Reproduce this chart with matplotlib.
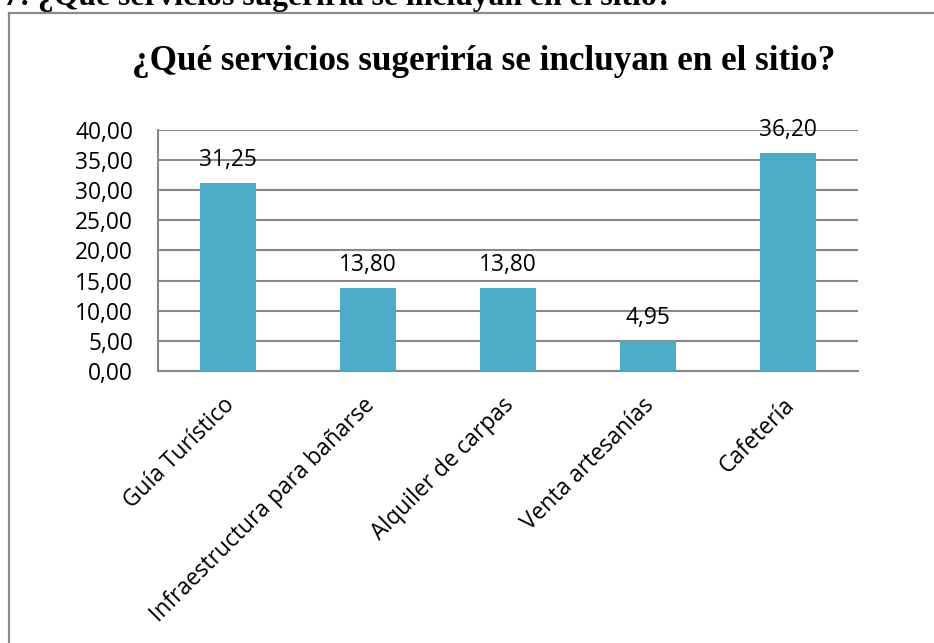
import matplotlib
matplotlib.use("Agg")
import matplotlib.pyplot as plt
from matplotlib.lines import Line2D

categories = ["Guía Turístico", "Infraestructura para bañarse", "Alquiler de carpas",
              "Venta artesanías", "Cafetería"]
values = [31.25, 13.80, 13.80, 4.95, 36.20]
yticks = [0, 5, 10, 15, 20, 25, 30, 35, 40]
title = "¿Qué servicios sugeriría se incluyan en el sitio?"
header = "Gráfico 7: ¿Qué servicios sugeriría se incluyan en el sitio?"

W, H = 934, 643
fig = plt.figure(figsize=(W / 100, H / 100), dpi=100)

def fx(px):
    return px / W

def fy(py):
    return 1 - py / H

FONT = "Open Sans"
FS = 16.4

ax = fig.add_axes([fx(158), fy(371), fx(858) - fx(158), fy(130) - fy(371)])
x = list(range(len(categories)))
ax.bar(x, values, width=0.4, color="#4BACC6", zorder=3)
ax.set_xlim(-0.5, len(categories) - 0.5)
ax.set_ylim(0, 40)
ax.set_yticks(yticks)
ax.set_yticklabels([f"{v:.2f}".replace(".", ",") for v in yticks],
                   fontfamily=FONT, fontsize=FS)
ax.tick_params(axis="y", length=0, pad=18)
ax.tick_params(axis="x", length=0)
ax.grid(axis="y", color="#878787", linewidth=1.5, zorder=1)
for s in ["top", "right"]:
    ax.spines[s].set_visible(False)
for s in ["left", "bottom"]:
    ax.spines[s].set_color("#878787")
    ax.spines[s].set_linewidth(1.5)
ax.set_xticks(x)
ax.set_xticklabels([])
for xi, c in zip(x, categories):
    ax.annotate(c, xy=(xi, 0), xycoords=("data", "axes fraction"),
                xytext=(2, -22), textcoords="offset points",
                rotation=45, rotation_mode="anchor", ha="right", va="center",
                fontfamily=FONT, fontsize=FS)
for xi, v in zip(x, values):
    ax.annotate(f"{v:.2f}".replace(".", ","), xy=(xi, v), xytext=(0, 8),
                textcoords="offset points", ha="center", va="bottom",
                fontfamily=FONT, fontsize=FS)

fig.text(fx(484), fy(61), title, ha="center", va="center",
         fontfamily="Liberation Serif", fontweight="bold", fontsize=25.3)
fig.text(fx(673), fy(5), header, ha="right", va="baseline",
         fontfamily="Liberation Serif", fontweight="bold", fontsize=22.8)

fig.add_artist(Line2D([fx(8.5), fx(8.5)], [fy(13), 0], color="#8a8a8a", lw=1.6,
                      transform=fig.transFigure))
fig.add_artist(Line2D([fx(8.5), 1], [fy(13), fy(13)], color="#8a8a8a", lw=1.6,
                      transform=fig.transFigure))

fig.savefig("out.png", dpi=100, facecolor="white")
